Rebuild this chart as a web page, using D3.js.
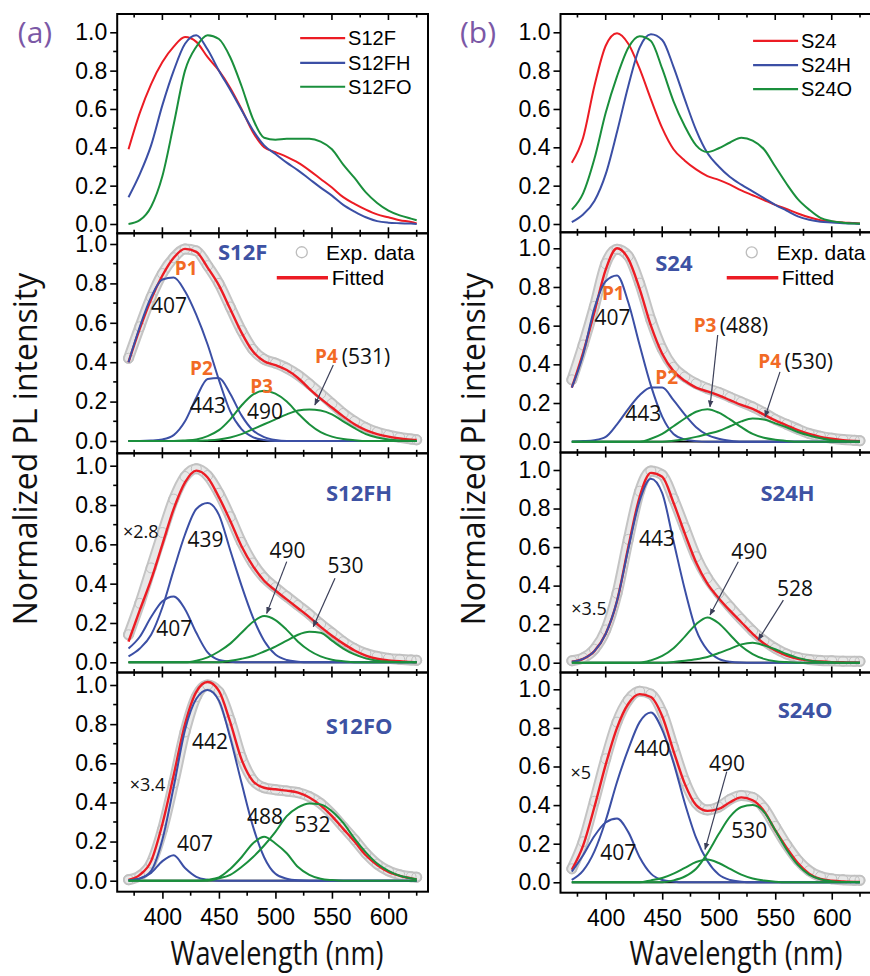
<!DOCTYPE html>
<html><head><meta charset="utf-8">
<script src="https://cdn.jsdelivr.net/npm/d3@7"></script>
<style>body{margin:0;background:#fff}</style>
</head><body>
<svg id="c" width="870" height="976"></svg>
<script>
// ---------------- DATA ----------------
const WL = [370,380,390,400,410,420,430,440,450,460,470,480,490,500,510,520,530,540,550,560,570,580,590,600,610,620,625];
const XTICKS = [400,450,500,550,600];
const XMINOR = [375,425,475,525,575,625];
const YTICKS = [0,0.2,0.4,0.6,0.8,1.0];
const YMINOR = [0.1,0.3,0.5,0.7,0.9];

// top panels (normalized PL)
const S12F  = [0.39,0.58,0.73,0.845,0.925,0.975,0.95,0.87,0.80,0.71,0.60,0.48,0.40,0.375,0.35,0.32,0.28,0.235,0.19,0.14,0.105,0.075,0.05,0.035,0.02,0.01,0.003];
const S12FH = [0.14,0.26,0.41,0.62,0.80,0.94,0.985,0.91,0.80,0.70,0.595,0.49,0.41,0.365,0.32,0.28,0.235,0.19,0.148,0.10,0.065,0.035,0.015,0.007,0.004,0.002,0.0];
const S12FO = [0.0,0.02,0.09,0.25,0.52,0.80,0.925,0.985,0.965,0.87,0.72,0.55,0.45,0.44,0.445,0.445,0.445,0.43,0.39,0.31,0.24,0.165,0.11,0.07,0.045,0.028,0.02];
const S24   = [0.32,0.45,0.72,0.93,0.995,0.94,0.81,0.65,0.50,0.39,0.33,0.285,0.25,0.23,0.205,0.175,0.15,0.125,0.10,0.078,0.055,0.035,0.02,0.013,0.008,0.005,0.003];
const S24H  = [0.01,0.05,0.12,0.26,0.48,0.72,0.92,0.99,0.96,0.82,0.65,0.49,0.37,0.30,0.245,0.205,0.17,0.135,0.10,0.07,0.04,0.022,0.012,0.008,0.004,0.002,0.0];
const S24O  = [0.075,0.16,0.34,0.58,0.77,0.92,0.98,0.955,0.81,0.64,0.51,0.41,0.375,0.395,0.425,0.45,0.435,0.39,0.30,0.21,0.13,0.075,0.032,0.015,0.007,0.003,0.002];

// S12F fit
const S12F_exp = [0.42,0.58,0.73,0.85,0.93,0.975,0.965,0.89,0.80,0.68,0.56,0.465,0.415,0.395,0.37,0.335,0.29,0.24,0.19,0.14,0.10,0.068,0.045,0.03,0.018,0.01,0.006];
const S12F_fit = [0.40,0.57,0.72,0.84,0.93,0.975,0.96,0.88,0.79,0.67,0.55,0.455,0.405,0.385,0.36,0.32,0.265,0.215,0.17,0.125,0.085,0.055,0.035,0.022,0.013,0.007,0.005];
const S12F_P1  = [0.40,0.58,0.73,0.82,0.83,0.76,0.64,0.49,0.31,0.15,0.06,0.02,0.005,0,0,0,0,0,0,0,0,0,0,0,0,0,0];
const S12F_P2  = [0,0,0.002,0.008,0.03,0.10,0.22,0.315,0.32,0.24,0.13,0.055,0.02,0.005,0,0,0,0,0,0,0,0,0,0,0,0,0];
const S12F_P3  = [0,0,0,0,0,0.003,0.008,0.025,0.055,0.11,0.18,0.235,0.255,0.24,0.20,0.14,0.085,0.045,0.022,0.01,0.004,0,0,0,0,0,0];
const S12F_P4  = [0,0,0,0,0,0,0,0.003,0.008,0.018,0.035,0.06,0.085,0.11,0.135,0.155,0.16,0.155,0.135,0.10,0.065,0.035,0.018,0.008,0.003,0.001,0];

// S24 fit
const S24_exp = [0.32,0.50,0.70,0.92,0.995,0.96,0.82,0.63,0.48,0.385,0.335,0.30,0.275,0.255,0.23,0.205,0.18,0.15,0.115,0.09,0.065,0.042,0.028,0.018,0.011,0.007,0.005];
const S24_fit = [0.28,0.46,0.67,0.89,1.0,0.945,0.79,0.60,0.455,0.365,0.315,0.28,0.26,0.24,0.215,0.19,0.17,0.14,0.11,0.085,0.06,0.04,0.025,0.015,0.008,0.004,0.003];
const S24_P1  = [0.28,0.45,0.69,0.83,0.86,0.72,0.50,0.29,0.13,0.04,0.012,0.003,0,0,0,0,0,0,0,0,0,0,0,0,0,0,0];
const S24_P2  = [0,0.003,0.008,0.025,0.09,0.17,0.24,0.28,0.28,0.215,0.14,0.075,0.035,0.015,0.005,0,0,0,0,0,0,0,0,0,0,0,0];
const S24_P3  = [0,0,0,0,0,0,0,0.015,0.04,0.08,0.12,0.155,0.168,0.15,0.115,0.075,0.04,0.02,0.01,0.004,0,0,0,0,0,0,0];
const S24_P4  = [0,0,0,0,0,0,0,0,0,0.005,0.013,0.025,0.04,0.055,0.08,0.105,0.12,0.115,0.095,0.075,0.05,0.032,0.018,0.008,0.003,0.001,0];

// S12FH fit
const S12FH_exp = [0.14,0.30,0.48,0.66,0.83,0.945,0.985,0.95,0.86,0.74,0.61,0.505,0.43,0.38,0.335,0.29,0.245,0.195,0.15,0.105,0.07,0.045,0.03,0.02,0.015,0.012,0.01];
const S12FH_fit = [0.105,0.265,0.42,0.60,0.78,0.915,0.975,0.94,0.84,0.72,0.59,0.49,0.415,0.365,0.32,0.275,0.23,0.18,0.135,0.095,0.06,0.034,0.018,0.01,0.005,0.002,0];
const S12FH_407 = [0.07,0.13,0.23,0.31,0.335,0.27,0.15,0.05,0.012,0.003,0,0,0,0,0,0,0,0,0,0,0,0,0,0,0,0,0];
const S12FH_439 = [0.03,0.07,0.14,0.28,0.47,0.65,0.78,0.81,0.75,0.57,0.39,0.23,0.11,0.04,0.012,0.003,0,0,0,0,0,0,0,0,0,0,0];
const S12FH_490 = [0,0,0,0,0,0,0.008,0.025,0.055,0.095,0.15,0.205,0.235,0.215,0.165,0.105,0.06,0.03,0.013,0.005,0,0,0,0,0,0,0];
const S12FH_530 = [0,0,0,0,0,0,0,0,0,0.008,0.018,0.032,0.055,0.08,0.11,0.14,0.155,0.15,0.11,0.07,0.04,0.02,0.008,0.003,0,0,0];

// S24H fit
const S24H_exp = [0.01,0.025,0.07,0.17,0.36,0.64,0.89,0.995,0.975,0.85,0.70,0.55,0.44,0.36,0.29,0.225,0.165,0.115,0.075,0.045,0.027,0.017,0.012,0.01,0.008,0.007,0.007];
const S24H_fit = [0.005,0.02,0.06,0.15,0.32,0.60,0.86,0.985,0.965,0.83,0.67,0.52,0.41,0.335,0.27,0.21,0.15,0.10,0.063,0.037,0.02,0.011,0.006,0.003,0.002,0.001,0];
const S24H_443 = [0.005,0.02,0.06,0.15,0.32,0.59,0.84,0.955,0.88,0.63,0.38,0.17,0.065,0.02,0.005,0.001,0,0,0,0,0,0,0,0,0,0,0];
const S24H_490 = [0,0,0,0,0,0,0,0.012,0.035,0.075,0.135,0.20,0.235,0.205,0.145,0.085,0.045,0.02,0.008,0.003,0,0,0,0,0,0,0];
const S24H_528 = [0,0,0,0,0,0,0,0,0,0.004,0.01,0.018,0.03,0.05,0.072,0.095,0.104,0.09,0.07,0.045,0.025,0.012,0.005,0.002,0,0,0];

// S12FO fit
const S12FO_exp = [0.005,0.025,0.09,0.26,0.50,0.76,0.94,1.0,0.965,0.82,0.63,0.515,0.475,0.465,0.458,0.45,0.43,0.395,0.34,0.275,0.21,0.14,0.085,0.05,0.03,0.02,0.018];
const S12FO_fit = [0.004,0.03,0.10,0.29,0.54,0.80,0.965,1.015,0.97,0.81,0.62,0.51,0.475,0.467,0.46,0.45,0.425,0.385,0.33,0.265,0.20,0.13,0.08,0.045,0.025,0.012,0.006];
const S12FO_407 = [0.003,0.012,0.04,0.10,0.13,0.065,0.02,0.005,0,0,0,0,0,0,0,0,0,0,0,0,0,0,0,0,0,0,0];
const S12FO_442 = [0,0.01,0.05,0.21,0.48,0.77,0.93,0.975,0.92,0.73,0.50,0.28,0.12,0.035,0.01,0.002,0,0,0,0,0,0,0,0,0,0,0];
const S12FO_488 = [0,0,0,0,0,0,0,0.005,0.017,0.06,0.12,0.19,0.225,0.19,0.14,0.07,0.03,0.01,0.003,0,0,0,0,0,0,0,0];
const S12FO_532 = [0,0,0,0,0,0,0,0,0.012,0.03,0.07,0.12,0.18,0.25,0.33,0.375,0.395,0.39,0.355,0.295,0.215,0.145,0.088,0.05,0.025,0.012,0.007];

// S24O fit
const S24O_exp = [0.07,0.21,0.42,0.64,0.83,0.945,0.99,0.975,0.88,0.70,0.525,0.41,0.375,0.39,0.43,0.45,0.44,0.385,0.29,0.195,0.115,0.06,0.03,0.018,0.013,0.01,0.01];
const S24O_fit = [0.065,0.19,0.39,0.61,0.80,0.925,0.975,0.96,0.86,0.68,0.51,0.40,0.37,0.38,0.415,0.44,0.425,0.37,0.27,0.18,0.10,0.045,0.017,0.008,0.004,0.002,0.002];
const S24O_407 = [0.055,0.14,0.24,0.31,0.33,0.26,0.13,0.045,0.012,0.003,0,0,0,0,0,0,0,0,0,0,0,0,0,0,0,0,0];
const S24O_440 = [0.012,0.06,0.16,0.32,0.52,0.69,0.83,0.88,0.79,0.62,0.41,0.23,0.11,0.04,0.012,0.003,0,0,0,0,0,0,0,0,0,0,0];
const S24O_490 = [0,0,0,0,0,0,0,0.01,0.022,0.045,0.075,0.105,0.118,0.10,0.07,0.04,0.02,0.009,0.003,0,0,0,0,0,0,0,0];
const S24O_530 = [0,0,0,0,0,0,0,0,0,0.01,0.03,0.07,0.15,0.25,0.34,0.39,0.40,0.365,0.27,0.17,0.09,0.04,0.016,0.006,0.002,0.001,0];

// text annotations [text, wavelength, value, kind]
const ANN_S12F = [["S12F",471,0.961,"s"],["P1",421,0.877,"p"],["407",405.8,0.69,"n"],["P2",434.6,0.372,"p"],["443",440.4,0.18,"n"],["P3",487.7,0.278,"p"],["490",490.8,0.152,"n"],["P4",545.2,0.431,"p"],["(531)",580.2,0.431,"n"]];
const ARR_S12F = [[551.2,0.386,534.9,0.183]];
const ANN_S24 = [["S24",460.3,0.922,"s"],["P1",406.7,0.77,"p"],["407",406,0.64,"n"],["P2",454,0.336,"p"],["443",433.3,0.147,"n"],["P3",487.9,0.603,"p"],["(488)",522.4,0.603,"n"],["P4",545.1,0.414,"p"],["(530)",579.7,0.414,"n"]];
const ARR_S24 = [[499.1,0.552,492.3,0.181],[554.2,0.361,541,0.129]];
const ANN_S12FH = [["S12FH",574,0.86,"s"],["×2.8",380.9,0.666,"x"],["439",438.1,0.623,"n"],["407",410.4,0.173,"n"],["490",510.7,0.571,"n"],["530",562,0.495,"n"]];
const ARR_S12FH = [[510,0.512,492.3,0.249],[552.7,0.427,533.5,0.181]];
const ANN_S24H = [["S24H",560.9,0.882,"s"],["×3.5",385.2,0.282,"x"],["443",445.4,0.646,"n"],["490",527.1,0.576,"n"],["528",567.5,0.386,"n"]];
const ARR_S24H = [[517.3,0.524,492.3,0.248],[557.2,0.325,535,0.118]];
const ANN_S12FO = [["S12FO",574,0.79,"s"],["×3.4",386.8,0.489,"x"],["442",442.1,0.71,"n"],["407",428.8,0.191,"n"],["488",490.8,0.327,"n"],["532",532.8,0.29,"n"]];
const ARR_S12FO = [];
const ANN_S24O = [["S24O",576.4,0.893,"s"],["×5",378,0.569,"x"],["440",441.2,0.694,"n"],["407",411.2,0.153,"n"],["490",507.3,0.617,"n"],["530",527.1,0.271,"n"]];
const ARR_S24O = [[507.1,0.573,487.9,0.171]];

// ---------------- STYLE / LAYOUT ----------------
const RED='#ec1c24', BLUE='#3b4fa5', GREEN='#1a8f3c', ORANGE='#f26a25', NAVY='#3d52a3', PURPLE='#7b58a6', ARROWC='#3b3f58';
const ARIAL='"Liberation Sans", Arial, sans-serif', HUM='"Open Sans", "Noto Sans", sans-serif';
const XR = [[117.2,428],[560.5,871.3]];
const ROWS = [
  [{top:14,bottom:233.3,y0:224,y1:32.3},{top:233.3,bottom:453.3,y0:441,y1:244},{top:453.3,bottom:672.5,y0:662.3,y1:465.7},{top:672.5,bottom:891.7,y0:880.7,y1:685}],
  [{top:14,bottom:232.3,y0:224,y1:32.3},{top:232.3,bottom:452.5,y0:441.7,y1:248.3},{top:452.5,bottom:672.5,y0:662.7,y1:470},{top:672.5,bottom:892.7,y0:882.3,y1:689.3}]
];

const svg = d3.select('#c');
const defs = svg.append('defs');
defs.append('marker').attr('id','ah').attr('viewBox','0 0 10 10').attr('refX',9).attr('refY',5)
  .attr('markerWidth',7).attr('markerHeight',7).attr('orient','auto-start-reverse').attr('markerUnits','userSpaceOnUse')
  .append('path').attr('d','M0,1 L10,5 L0,9 z').attr('fill',ARROWC);

const xs = XR.map(r=>d3.scaleLinear().domain([360,635]).range(r));

function mkLine(x,y){return d3.line().x((d,i)=>x(WL[i])).y(d=>y(d)).curve(d3.curveMonotoneX);}

function frame(g,x,p,col,row){
  const [a,b]=x.range();
  const y=d3.scaleLinear().domain([0,1]).range([p.y0,p.y1]);
  const ax=g.append('g').attr('transform',`translate(${a},0)`)
    .call(d3.axisLeft(y).tickValues(YTICKS).tickFormat(d3.format('.1f')).tickSize(7).tickPadding(3).tickSizeOuter(0));
  ax.select('.domain').remove();
  ax.selectAll('line').attr('stroke','#000').attr('stroke-width',1.6);
  ax.selectAll('text').attr('font-family',ARIAL).attr('font-size',23).attr('fill','#000');
  g.append('g').selectAll('line').data(YMINOR).join('line')
    .attr('x1',a-4).attr('x2',a).attr('y1',d=>y(d)).attr('y2',d=>y(d)).attr('stroke','#000').attr('stroke-width',1.6);
  const drawTicks=(yy,up,down)=>{
    g.append('g').selectAll('line').data(XTICKS).join('line')
      .attr('x1',d=>x(d)).attr('x2',d=>x(d)).attr('y1',yy-up[0]).attr('y2',yy+down[0]).attr('stroke','#000').attr('stroke-width',1.6);
    g.append('g').selectAll('line').data(XMINOR).join('line')
      .attr('x1',d=>x(d)).attr('x2',d=>x(d)).attr('y1',yy-up[1]).attr('y2',yy+down[1]).attr('stroke','#000').attr('stroke-width',1.6);
  };
  if(row===0) drawTicks(p.top,[0,0],[6,3.5]);
  if(row===3){
    const bx=g.append('g').attr('transform',`translate(0,${p.bottom})`)
      .call(d3.axisBottom(x).tickValues(XTICKS).tickFormat(d3.format('d')).tickSize(7).tickPadding(10).tickSizeOuter(0));
    bx.select('.domain').remove();
    bx.selectAll('line').attr('stroke','#000').attr('stroke-width',1.6);
    bx.selectAll('text').attr('font-family',ARIAL).attr('font-size',23).attr('fill','#000');
    g.append('g').selectAll('line').data(XMINOR).join('line')
      .attr('x1',d=>x(d)).attr('x2',d=>x(d)).attr('y1',p.bottom).attr('y2',p.bottom+4).attr('stroke','#000').attr('stroke-width',1.6);
  } else {
    drawTicks(p.bottom,[6,3.5],[5,3.5]);
  }
  g.append('rect').attr('x',a).attr('y',p.top).attr('width',b-a).attr('height',p.bottom-p.top)
    .attr('fill','none').attr('stroke','#000').attr('stroke-width',2);
  return y;
}

function topPanel(col,series,names){
  const x=xs[col], p=ROWS[col][0];
  const g=svg.append('g');
  const y=d3.scaleLinear().domain([0,1]).range([p.y0,p.y1]);
  const ln=mkLine(x,y);
  const cols=[RED,BLUE,GREEN];
  series.forEach((s,i)=>g.append('path').attr('d',ln(s)).attr('fill','none').attr('stroke',cols[i]).attr('stroke-width',2));
  const L = col===0 ? {w1:521.9,w2:561.7,wt:564.3,v:[0.970,0.841,0.716]} : {w1:530.4,w2:570.2,wt:572.8,v:[0.955,0.829,0.704]};
  names.forEach((n,i)=>{
    g.append('line').attr('x1',x(L.w1)).attr('x2',x(L.w2)).attr('y1',y(L.v[i])).attr('y2',y(L.v[i])).attr('stroke',cols[i]).attr('stroke-width',2.2);
    g.append('text').attr('x',x(L.wt)).attr('y',y(L.v[i])).attr('dy','0.35em').text(n)
      .attr('font-family',ARIAL).attr('font-size',20).attr('fill','#000');
  });
  frame(g,x,p,col,0);
}

function fitPanel(col,row,exp,fit,comps,ann,arr,legend){
  const x=xs[col], p=ROWS[col][row];
  const g=svg.append('g');
  const y=d3.scaleLinear().domain([0,1]).range([p.y0,p.y1]);
  const ln=mkLine(x,y);
  g.append('line').attr('x1',x(WL[0])).attr('x2',x(WL[WL.length-1])).attr('y1',y(0)).attr('y2',y(0)).attr('stroke','#000').attr('stroke-width',1.8);
  g.append('path').attr('d',ln(exp)).attr('fill','none').attr('stroke','#c4c4c4').attr('stroke-width',11).attr('stroke-linecap','round');
  g.append('path').attr('d',ln(exp)).attr('fill','none').attr('stroke','#e8e8e8').attr('stroke-width',7).attr('stroke-linecap','round');
  g.append('g').selectAll('circle').data(exp).join('circle')
    .attr('cx',(d,i)=>x(WL[i])).attr('cy',d=>y(d)).attr('r',5).attr('fill','none').attr('stroke','#c0c0c0').attr('stroke-width',1);
  g.append('path').attr('d',ln(fit)).attr('fill','none').attr('stroke',RED).attr('stroke-width',2.4);
  comps.forEach(c=>g.append('path').attr('d',ln(c.v)).attr('fill','none').attr('stroke',c.c).attr('stroke-width',2));
  arr.forEach(a=>g.append('line').attr('x1',x(a[0])).attr('y1',y(a[1])).attr('x2',x(a[2])).attr('y2',y(a[3]))
     .attr('stroke',ARROWC).attr('stroke-width',1.2).attr('marker-end','url(#ah)'));
  ann.forEach(([t,w,v,k])=>{
    const tx=g.append('text').attr('x',x(w)).attr('y',y(v)).attr('dy','0.36em').attr('text-anchor','middle').text(t);
    if(k==='s') tx.attr('font-family',HUM).attr('font-weight',700).attr('font-size',22).attr('fill',NAVY);
    else if(k==='p') tx.attr('font-family',HUM).attr('font-weight',700).attr('font-size',19).attr('fill',ORANGE);
    else if(k==='x') tx.attr('font-family',HUM).attr('font-size',18).attr('fill','#111');
    else tx.attr('font-family',HUM).attr('font-size',21).attr('fill','#111');
  });
  if(legend){
    const L=legend;
    g.append('circle').attr('cx',x(L.cw)).attr('cy',y(L.cv)).attr('r',5.5).attr('fill','none').attr('stroke','#bdbdbd').attr('stroke-width',1.3);
    g.append('text').attr('x',x(L.tw)).attr('y',y(L.cv)).attr('dy','0.35em').text('Exp. data').attr('font-family',ARIAL).attr('font-size',21).attr('fill','#000');
    g.append('line').attr('x1',x(L.l1)).attr('x2',x(L.l2)).attr('y1',y(L.lv)).attr('y2',y(L.lv)).attr('stroke',RED).attr('stroke-width',3.5);
    g.append('text').attr('x',x(L.lt)).attr('y',y(L.lv)).attr('dy','0.35em').text('Fitted').attr('font-family',ARIAL).attr('font-size',21).attr('fill','#000');
  }
  frame(g,x,p,col,row);
}

topPanel(0,[S12F,S12FH,S12FO],['S12F','S12FH','S12FO']);
topPanel(1,[S24,S24H,S24O],['S24','S24H','S24O']);
fitPanel(0,1,S12F_exp,S12F_fit,[{v:S12F_P1,c:BLUE},{v:S12F_P2,c:BLUE},{v:S12F_P3,c:GREEN},{v:S12F_P4,c:GREEN}],ANN_S12F,ARR_S12F,
  {cw:523.3,cv:0.958,tw:544.8,l1:501.2,l2:546.5,lv:0.829,lt:549.8});
fitPanel(1,1,S24_exp,S24_fit,[{v:S24_P1,c:BLUE},{v:S24_P2,c:BLUE},{v:S24_P3,c:GREEN},{v:S24_P4,c:GREEN}],ANN_S24,ARR_S24,
  {cw:529.2,cv:0.979,tw:551.3,l1:507.1,l2:552.7,lv:0.848,lt:555.8});
fitPanel(0,2,S12FH_exp,S12FH_fit,[{v:S12FH_407,c:BLUE},{v:S12FH_439,c:BLUE},{v:S12FH_490,c:GREEN},{v:S12FH_530,c:GREEN}],ANN_S12FH,ARR_S12FH,null);
fitPanel(1,2,S24H_exp,S24H_fit,[{v:S24H_443,c:BLUE},{v:S24H_490,c:GREEN},{v:S24H_528,c:GREEN}],ANN_S24H,ARR_S24H,null);
fitPanel(0,3,S12FO_exp,S12FO_fit,[{v:S12FO_407,c:BLUE},{v:S12FO_442,c:BLUE},{v:S12FO_488,c:GREEN},{v:S12FO_532,c:GREEN}],ANN_S12FO,ARR_S12FO,null);
fitPanel(1,3,S24O_exp,S24O_fit,[{v:S24O_407,c:BLUE},{v:S24O_440,c:BLUE},{v:S24O_490,c:GREEN},{v:S24O_530,c:GREEN}],ANN_S24O,ARR_S24O,null);

// panel letters and axis titles
[['(a)',35,32],['(b)',478,32]].forEach(([t,xx,yy])=>svg.append('text').attr('x',xx).attr('y',yy).attr('dy','0.36em')
  .attr('text-anchor','middle').text(t).attr('font-family',HUM).attr('font-size',30).attr('fill',PURPLE));
[[37,449],[485,449]].forEach(([xx,yy])=>svg.append('text').attr('transform',`translate(${xx},${yy}) rotate(-90)`)
  .attr('text-anchor','middle').text('Normalized PL intensity').attr('font-family',HUM).attr('font-size',32).attr('fill','#111'));
[[277,965],[736,965]].forEach(([xx,yy])=>svg.append('text').attr('transform',`translate(${xx},${yy}) scale(0.82,1)`)
  .attr('text-anchor','middle').text('Wavelength (nm)').attr('font-family',HUM).attr('font-size',33).attr('fill','#111'));
</script></body></html>
